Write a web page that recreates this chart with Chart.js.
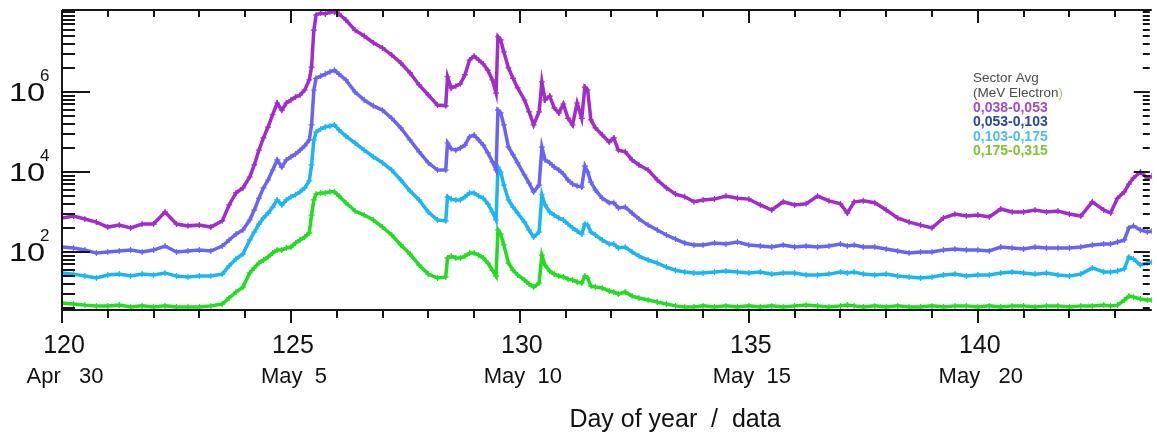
<!DOCTYPE html>
<html>
<head>
<meta charset="utf-8">
<script src="https://cdn.jsdelivr.net/npm/chart.js@4.4.1/dist/chart.umd.min.js"></script>
<style>
  html, body { margin: 0; padding: 0; background: #fff; }
  canvas { display: block; }
</style>
</head>
<body>
<canvas id="fluxChart" width="1157" height="434"></canvas>
<script>
// day of year (fractional) shared by all four channels
const days = [
  120.0, 120.25, 120.5, 120.75, 121.0, 121.25, 121.5, 121.75, 122.0, 122.25,
  122.5, 122.75, 123.0, 123.25, 123.5, 123.65, 123.8, 123.95, 124.1, 124.2,
  124.3, 124.4, 124.5, 124.6, 124.7, 124.8, 124.9, 125.0, 125.1, 125.2,
  125.3, 125.4, 125.45, 125.5, 125.55, 125.65, 125.75, 125.85, 125.95, 126.05,
  126.2, 126.4, 126.6, 126.8, 127.0, 127.2, 127.4, 127.6, 127.8, 128.0,
  128.2, 128.38, 128.42, 128.5, 128.6, 128.7, 128.8, 128.9, 129.0, 129.1,
  129.2, 129.3, 129.4, 129.48, 129.52, 129.58, 129.65, 129.75, 129.85, 129.95,
  130.1, 130.2, 130.3, 130.42, 130.48, 130.55, 130.65, 130.75, 130.85, 130.95,
  131.05, 131.15, 131.25, 131.35, 131.42, 131.48, 131.55, 131.65, 131.8, 131.95,
  132.05, 132.15, 132.3, 132.45, 132.6, 132.8, 133.0, 133.2, 133.4, 133.6,
  133.8, 134.0, 134.25, 134.5, 134.75, 135.0, 135.25, 135.5, 135.75, 136.0,
  136.25, 136.5, 136.75, 137.0, 137.15, 137.3, 137.5, 137.75, 138.0, 138.25,
  138.5, 138.75, 139.0, 139.25, 139.5, 139.75, 140.0, 140.25, 140.5, 140.75,
  141.0, 141.25, 141.5, 141.75, 142.0, 142.25, 142.5, 142.75, 142.9, 143.05,
  143.2, 143.3, 143.4, 143.55, 143.7, 143.8
];

// 0,038-0,053 MeV
const flux038 = [
  710, 790, 670, 560, 420, 470, 400, 500, 500, 1000,
  500, 450, 470, 420, 600, 1500, 3000, 4000, 7500, 1.5e4,
  3.5e4, 7.1e4, 1.33e5, 2.7e5, 5.3e5, 3.5e5, 5.3e5, 6.3e5, 7.5e5, 8.4e5,
  1.12e6, 2.0e6, 4.2e6, 3.5e7, 8.4e7, 9.4e7, 8.9e7, 1.0e8, 1.0e8, 8.9e7,
  6.3e7, 3.5e7, 2.5e7, 1.7e7, 1.26e7, 8.4e6, 5.3e6, 3.0e6, 1.5e6, 8.4e5,
  4.7e5, 4.5e5, 2.4e6, 1.26e6, 1.4e6, 1.6e6, 2.7e6, 6.3e6, 7.9e6, 6.3e6,
  5.0e6, 3.5e6, 2.0e6, 9.4e5, 2.4e7, 2.0e7, 1.0e7, 4.0e6, 2.2e6, 1.26e6,
  6.3e5, 3.2e5, 1.5e5, 3.2e5, 1.8e6, 6.3e5, 7.9e5, 4.0e5, 3.0e5, 5.0e5,
  2.2e5, 1.5e5, 5.3e5, 2.2e5, 1.33e6, 1.12e6, 2.0e5, 1.26e5, 8.4e4, 5.6e4,
  7.1e4, 3.5e4, 3.2e4, 2.0e4, 1.5e4, 1.12e4, 6300, 4000, 2800, 2400,
  1800, 2000, 2100, 2500, 2200, 2100, 1500, 1120, 1800, 1500,
  1600, 2500, 1900, 1600, 940, 1800, 1900, 1700, 1120, 710,
  560, 470, 400, 710, 890, 790, 840, 750, 1190, 1000,
  1000, 1120, 1000, 1060, 890, 790, 1800, 1120, 940, 2200,
  3200, 5000, 7100, 1.0e4, 7100, 7900
];

// 0,053-0,103 MeV
const flux053 = [
  133, 126, 112, 94, 100, 106, 112, 100, 112, 141,
  100, 106, 112, 106, 141, 200, 280, 355, 630, 1120,
  2200, 4000, 6300, 1.12e4, 2.0e4, 1.33e4, 2.0e4, 2.4e4, 2.8e4, 3.5e4,
  4.5e4, 6.3e4, 1.5e5, 1.12e6, 2.2e6, 2.5e6, 2.8e6, 3.2e6, 3.5e6, 2.8e6,
  2.0e6, 1.0e6, 6.3e5, 4.5e5, 3.5e5, 2.2e5, 1.26e5, 6.3e4, 3.2e4, 1.7e4,
  1.12e4, 1.12e4, 5.3e4, 3.8e4, 3.5e4, 4.0e4, 4.7e4, 7.5e4, 8.4e4, 6.3e4,
  4.7e4, 3.0e4, 1.8e4, 1.12e4, 3.5e5, 3.0e5, 1.5e5, 4.2e4, 2.7e4, 1.7e4,
  8400, 5300, 3200, 4700, 4.2e4, 2.0e4, 1.7e4, 1.33e4, 1.12e4, 8900,
  6300, 5000, 4500, 4200, 1.4e4, 1.0e4, 5600, 3550, 2200, 1700,
  1700, 1260, 1330, 940, 670, 470, 355, 266, 211, 168,
  150, 150, 168, 158, 178, 150, 141, 133, 150, 133,
  141, 133, 141, 158, 141, 150, 133, 133, 119, 106,
  94, 100, 100, 112, 119, 112, 112, 106, 133, 126,
  119, 133, 126, 126, 126, 133, 150, 158, 158, 178,
  200, 400, 450, 355, 316, 335
];

// 0,103-0,175 MeV
const flux103 = [
  30, 28, 25, 22.4, 26.6, 28, 25, 28, 26.6, 30,
  25, 23.7, 25, 25, 28, 45, 67, 89, 200, 316,
  500, 710, 940, 1330, 2000, 1500, 2000, 2400, 2700, 3200,
  4000, 6000, 1.5e4, 6.3e4, 1.0e5, 1.19e5, 1.33e5, 1.41e5, 1.5e5, 1.12e5,
  7.9e4, 5.3e4, 3.5e4, 2.4e4, 1.7e4, 1.12e4, 6300, 3350, 2000, 1000,
  630, 600, 2400, 2100, 2000, 2000, 2400, 3000, 3000, 2500,
  2200, 1600, 1000, 630, 1.33e4, 1.0e4, 4700, 2000, 1330, 940,
  560, 355, 237, 316, 2700, 1500, 1000, 840, 710, 630,
  500, 400, 335, 280, 500, 470, 316, 266, 200, 158,
  158, 126, 133, 100, 79, 63, 53, 42, 35, 31.6,
  30, 30, 31.6, 33.5, 31.6, 30, 31.6, 28, 30, 30,
  26.6, 26.6, 28, 31.6, 30, 31.6, 28, 26.6, 28, 25,
  23.7, 22.4, 23.7, 26.6, 28, 25, 26.6, 26.6, 30, 31.6,
  30, 28, 30, 26.6, 25, 28, 40, 31.6, 31.6, 33.5,
  38, 75, 67, 47, 53, 56
];

// 0,175-0,315 MeV
const flux175 = [
  5.3, 5.0, 4.7, 4.5, 4.5, 4.7, 4.2, 4.5, 4.2, 4.5,
  4.2, 4.2, 4.2, 4.5, 5.0, 7.1, 10, 13.3, 30, 40,
  53, 63, 75, 94, 112, 112, 126, 133, 168, 200,
  237, 300, 840, 2000, 2800, 3000, 3000, 3200, 3200, 2500,
  1700, 1060, 840, 630, 420, 266, 150, 89, 47, 28,
  22.4, 23.7, 71, 79, 71, 71, 79, 94, 94, 84,
  71, 53, 35, 25, 355, 280, 150, 53, 35, 26.6,
  20, 15.8, 13.3, 16.8, 84, 47, 33.5, 28, 25, 23.7,
  21, 20, 17.8, 16.8, 25, 22.4, 14.1, 13.3, 12.6, 10.6,
  10, 8.9, 10, 7.9, 7.1, 6.3, 5.6, 5.0, 4.5, 4.2,
  4.2, 4.5, 4.2, 4.5, 4.2, 4.5, 4.2, 4.5, 4.2, 4.5,
  4.7, 4.5, 4.2, 4.5, 4.7, 4.5, 4.2, 4.5, 4.2, 4.5,
  4.2, 4.2, 4.5, 4.2, 4.5, 4.5, 4.2, 4.5, 4.2, 4.5,
  4.5, 4.2, 4.5, 4.5, 4.2, 4.5, 4.5, 4.7, 4.5, 4.7,
  6.3, 7.9, 7.5, 6.7, 6.3, 6.3
];

const dayTicks = [120, 125, 130, 135, 140];
const dateLabels = ['Apr   30', 'May  5', 'May  10', 'May  15', 'May   20'];
const powerLabels = [2, 4, 6];
const legendHeader = ['Sector Avg', '(MeV Electron'];
const channelNames = ['0,038-0,053', '0,053-0,103', '0,103-0,175', '0,175-0,315'];
const channelText = ['#a24bc9', '#27479b', '#4dbfe9', '#7dc531'];
const axisTitle = 'Day of year  /  data';

// minor log ticks sit at m^2 inside every two-decade band
const minorSteps = [4, 9, 16, 25, 36, 49, 64, 81];

const FONT = '"Liberation Sans", Arial, sans-serif';

function series(label, values, color) {
  return {
    label: label,
    data: days.map((d, i) => ({x: d, y: values[i]})),
    borderColor: color,
    backgroundColor: color,
    borderWidth: 3.5,
    pointStyle: 'cross',
    pointRadius: 3,
    pointBorderWidth: 1.2,
    tension: 0
  };
}

const frameAndLabels = {
  id: 'frameAndLabels',
  afterDraw(chart) {
    const {ctx, chartArea: area, scales: {x, y}} = chart;
    ctx.save();
    ctx.strokeStyle = '#161616';
    ctx.lineWidth = 2;

    ctx.beginPath();
    ctx.moveTo(area.left, area.top); ctx.lineTo(area.right, area.top);
    ctx.moveTo(area.left, area.top); ctx.lineTo(area.left, area.bottom);
    ctx.moveTo(area.left, area.bottom); ctx.lineTo(area.right, area.bottom);

    // one tick per day: inward on top, outward on bottom
    for (let d = Math.ceil(x.min); d <= x.max; d++) {
      const px = Math.round(x.getPixelForValue(d));
      const major = d % 5 === 0;
      ctx.moveTo(px, area.top); ctx.lineTo(px, area.top + (major ? 13 : 7));
      ctx.moveTo(px, area.bottom); ctx.lineTo(px, area.bottom + (major ? 13 : 8));
    }

    // log ticks on left and right edges
    const rightEdge = area.right - 2;
    for (let k = 0; k <= 8; k += 2) {
      const base = Math.pow(10, k);
      const major = powerLabels.includes(k);
      if (base >= y.min && base <= y.max) {
        const py = Math.round(y.getPixelForValue(base));
        ctx.moveTo(area.left, py); ctx.lineTo(area.left + (major ? 28 : 13), py);
        ctx.moveTo(rightEdge, py); ctx.lineTo(rightEdge - (major ? 16 : 7), py);
      }
      minorSteps.forEach(m => {
        const v = m * base;
        if (v < y.min || v > y.max) return;
        const py = Math.round(y.getPixelForValue(v));
        ctx.moveTo(area.left, py); ctx.lineTo(area.left + 13, py);
        ctx.moveTo(rightEdge, py); ctx.lineTo(rightEdge - 7, py);
      });
    }
    ctx.stroke();

    // y labels: a wide "10" with a raised exponent
    ctx.fillStyle = '#111';
    ctx.textAlign = 'left';
    ctx.textBaseline = 'alphabetic';
    powerLabels.forEach(p => {
      const py = y.getPixelForValue(Math.pow(10, p));
      ctx.save();
      ctx.translate(9, py + 9);
      ctx.scale(1.25, 1);
      ctx.font = '26px ' + FONT;
      ctx.fillText('10', 0, 0);
      ctx.restore();
      ctx.font = '17px ' + FONT;
      ctx.fillText(String(p), 40, py - 11);
    });

    // x labels: day number and calendar date
    ctx.textAlign = 'center';
    dayTicks.forEach((d, i) => {
      const px = x.getPixelForValue(d);
      ctx.font = '25px ' + FONT;
      ctx.fillText(String(d), px + 2, area.bottom + 43);
      ctx.font = '22px ' + FONT;
      ctx.fillText(dateLabels[i], px + 3, area.bottom + 73);
    });

    ctx.font = '25px ' + FONT;
    ctx.fillText(axisTitle, 675, area.bottom + 117);

    // channel key
    ctx.textAlign = 'left';
    ctx.font = '13.5px ' + FONT;
    ctx.fillStyle = '#4a4a4a';
    ctx.fillText(legendHeader[0], 973, 82);
    ctx.fillText(legendHeader[1], 973, 97);
    const w = ctx.measureText(legendHeader[1]).width;
    ctx.fillStyle = '#9ccc70';
    ctx.fillText(')', 973 + w, 97);
    ctx.font = 'bold 14px ' + FONT;
    channelNames.forEach((name, i) => {
      ctx.fillStyle = channelText[i];
      ctx.fillText(name, 973, 112 + i * 14.3);
    });
    ctx.restore();
  }
};

new Chart(document.getElementById('fluxChart'), {
  type: 'line',
  data: {
    datasets: [
      series(channelNames[0], flux038, '#a12ccb'),
      series(channelNames[1], flux053, '#6b63f2'),
      series(channelNames[2], flux103, '#1bb6f2'),
      series(channelNames[3], flux175, '#22dc22')
    ]
  },
  options: {
    responsive: false,
    animation: false,
    devicePixelRatio: 1,
    layout: {padding: {left: 62, right: 0, top: 10, bottom: 124}},
    plugins: {legend: {display: false}, tooltip: {enabled: false}},
    scales: {
      x: {type: 'linear', min: 120, max: 143.8, bounds: 'data', display: false},
      y: {type: 'logarithmic', min: 3.55, max: 1.12e8, bounds: 'data', display: false}
    }
  },
  plugins: [frameAndLabels]
});
</script>
</body>
</html>
